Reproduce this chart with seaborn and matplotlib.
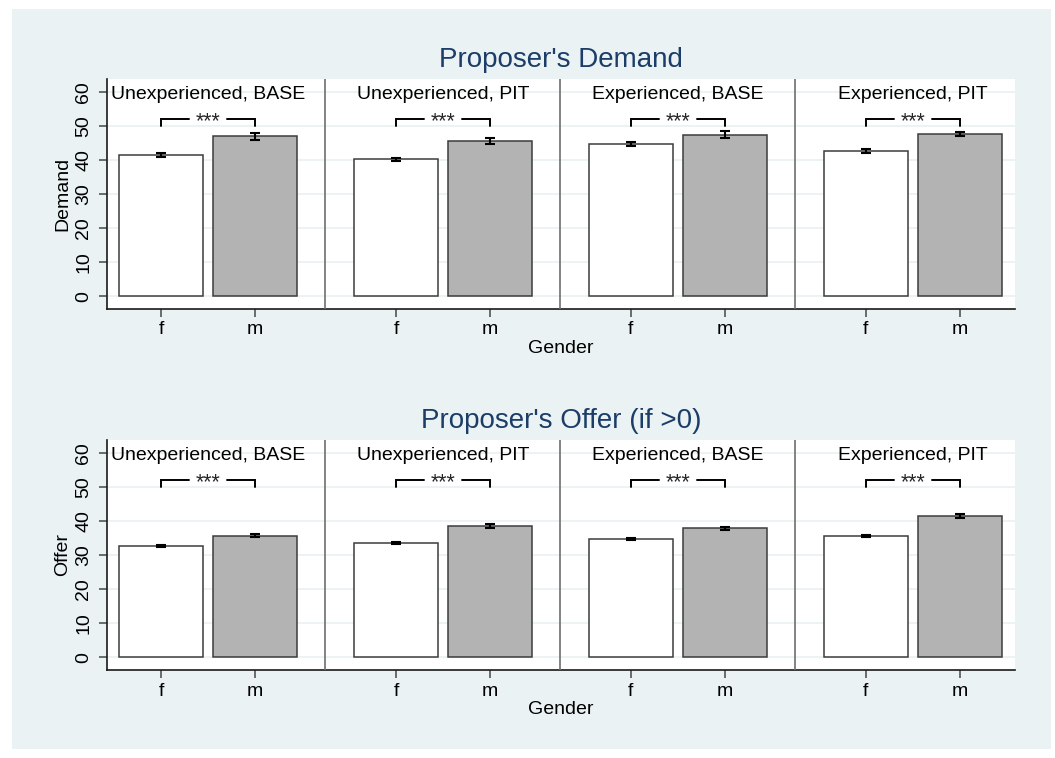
import numpy as np
import pandas as pd
import matplotlib
matplotlib.use("Agg")
import matplotlib.pyplot as plt
import seaborn as sns
from matplotlib.patches import Rectangle

# ---------------- data ----------------
groups = ["Unexperienced, BASE", "Unexperienced, PIT", "Experienced, BASE", "Experienced, PIT"]
genders = ["f", "m"]

demand_f = [41.5, 40.2, 44.8, 42.6]
demand_m = [46.9, 45.5, 47.4, 47.6]
demand_err_f = [0.5, 0.5, 0.6, 0.6]
demand_err_m = [0.95, 0.85, 1.0, 0.7]

offer_f = [32.7, 33.5, 34.6, 35.5]
offer_m = [35.6, 38.5, 37.8, 41.5]
offer_err_f = [0.25, 0.25, 0.3, 0.3]
offer_err_m = [0.45, 0.55, 0.4, 0.5]

sig_labels = ["***", "***", "***", "***"]
panel_titles = ["Proposer's Demand", "Proposer's Offer (if >0)"]
y_labels = ["Demand", "Offer"]
x_label = "Gender"
y_ticks = [0, 10, 20, 30, 40, 50, 60]

# ---------------- style ----------------
sns.set_style("white")
plt.rcParams["font.family"] = ["Liberation Sans", "DejaVu Sans"]

BG = "#eaf2f3"
NAVY = "#1b3d68"

fig = plt.figure(figsize=(10.55, 7.58), dpi=100)
fig.patch.set_facecolor("white")
fig.patches.append(Rectangle((12 / 1055, 1 - 749 / 758), (1051 - 12) / 1055, (749 - 9) / 758,
                             transform=fig.transFigure, facecolor=BG, edgecolor="none", zorder=-10))

W, H = 1055, 758
ax_boxes = [
    (107 / W, 1 - 309 / H, (1015 - 107) / W, 230 / H),
    (107 / W, 1 - 670 / H, (1015 - 107) / W, 230 / H),
]

panels = [
    (demand_f, demand_m, demand_err_f, demand_err_m),
    (offer_f, offer_m, offer_err_f, offer_err_m),
]

FS = 14

for pi, (vf, vm, ef, em) in enumerate(panels):
    ax = fig.add_axes(ax_boxes[pi])
    df = pd.DataFrame({
        "group": groups * 2,
        "gender": ["f"] * 4 + ["m"] * 4,
        "value": list(vf) + list(vm),
    })
    sns.barplot(data=df, x="group", y="value", hue="gender", order=groups, hue_order=genders,
                palette={"f": "white", "m": "#b3b3b3"}, width=0.8, gap=0.1,
                edgecolor="#3c3c3c", linewidth=1.1, errorbar=None, legend=False, ax=ax,
                saturation=1)

    # bar centers from the library's patches, per hue container
    centers = {}
    for g, cont in zip(genders, ax.containers):
        centers[g] = [p.get_x() + p.get_width() / 2 for p in cont.patches]

    ax.errorbar(centers["f"], vf, yerr=ef, fmt="none", ecolor="black",
                elinewidth=1.5, capsize=3.3, capthick=1.5, zorder=5)
    ax.errorbar(centers["m"], vm, yerr=em, fmt="none", ecolor="black",
                elinewidth=1.5, capsize=3.3, capthick=1.5, zorder=5)

    ax.set_xlim(-0.43, 3.435)
    ax.set_ylim(-3.8, 63.8)
    ax.set_facecolor("white")

    # grid
    ax.set_yticks(y_ticks)
    ax.yaxis.grid(True, color=BG, lw=1.3)
    ax.set_axisbelow(True)

    # group separators
    for i in range(len(groups) - 1):
        ax.axvline(i + 0.5, color="#6e6e6e", lw=1.2, zorder=3)

    # group labels and significance brackets
    for i, g in enumerate(groups):
        ax.text(i, 58.0, g, ha="center", va="baseline", fontsize=FS, color="black", zorder=6)
        xf, xm = centers["f"][i], centers["m"][i]
        mid = (xf + xm) / 2
        gap = 0.08
        ax.plot([xf, xf, mid - gap], [50, 52, 52], color="black", lw=1.4, zorder=6,
                solid_joinstyle="miter")
        ax.plot([mid + gap, xm, xm], [52, 52, 50], color="black", lw=1.4, zorder=6,
                solid_joinstyle="miter")
        ax.text(mid, 49.6, sig_labels[i], ha="center", va="baseline", fontsize=15.5, zorder=6)

    # x ticks f / m under each bar
    xt = []
    xl = []
    for i in range(len(groups)):
        xt += [centers["f"][i], centers["m"][i]]
        xl += genders
    ax.set_xticks(xt)
    ax.set_xticklabels(xl)

    ax.tick_params(axis="x", length=5.5, width=1.2, color="#555555", pad=3.5, labelsize=FS,
                   bottom=True, labelcolor="black")
    ax.tick_params(axis="y", length=5.5, width=1.2, color="#555555", pad=5, labelsize=FS,
                   left=True, labelcolor="black", labelrotation=90)
    for lab in ax.get_yticklabels():
        lab.set_va("center")

    for s in ["top", "right"]:
        ax.spines[s].set_visible(False)
    for s in ["left", "bottom"]:
        ax.spines[s].set_color("#1a1a1a")
        ax.spines[s].set_linewidth(1.2)

    ax.set_xlabel(x_label, fontsize=FS, labelpad=1, color="black")
    ax.set_ylabel(y_labels[pi], fontsize=FS, labelpad=3, color="black")
    ax.set_title(panel_titles[pi], fontsize=20, color=NAVY, pad=8.5)

fig.savefig("out.png", dpi=100, facecolor=fig.get_facecolor())
